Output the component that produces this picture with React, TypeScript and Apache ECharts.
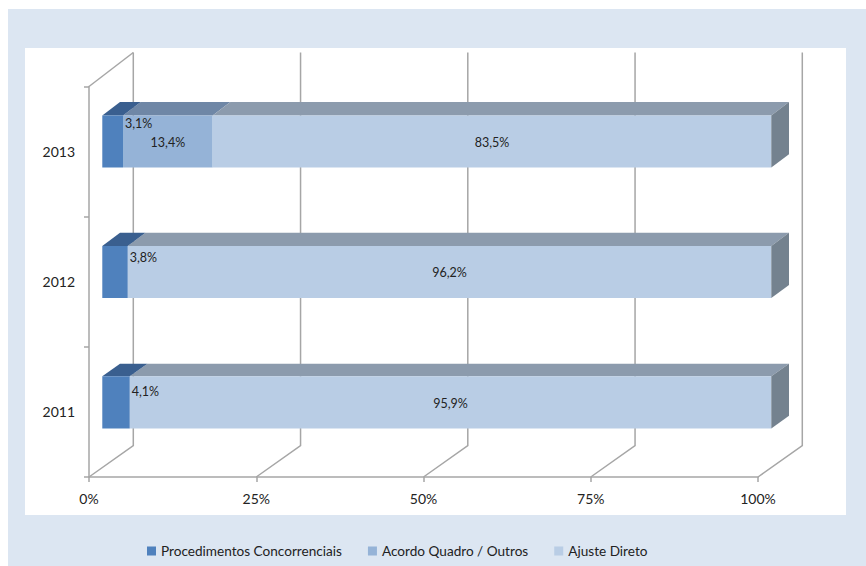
import React, { useEffect, useRef } from "react";
import * as echarts from "echarts";

const years = ["2011", "2012", "2013"];
const seriesNames = ["Procedimentos Concorrenciais", "Acordo Quadro / Outros", "Ajuste Direto"];
const procedimentos = [4.1, 3.8, 3.1];
const acordo = [0, 0, 13.4];
const ajuste = [95.9, 96.2, 83.5];
const xTicks = [0, 25, 50, 75, 100];

const seriesValues = [procedimentos, acordo, ajuste];
const faceColors = [
  { front: "#4f81bd", top: "#3a5f8f", side: "#3a5f8f" },
  { front: "#95b3d7", top: "#6f87a6", side: "#6f87a6" },
  { front: "#b9cde5", top: "#8c9bad", side: "#74828f" },
];
const smallLabelDy = [15, 12, 8];

const FONT = "Lato, 'Open Sans', sans-serif";
const TEXT = "#222";
const LINE = "#a6a6a6";
const DX = 44.3;
const depthY = (y: number, top: number, bottom: number) =>
  -31.3 - (2.7 * (bottom - y)) / (bottom - top);
const fmt = (v: number) => v.toFixed(1).replace(".", ",") + "%";

export default function App() {
  const ref = useRef<HTMLDivElement>(null);
  useEffect(() => {
    const chart = echarts.init(ref.current!, null, { renderer: "svg" });

    const wallSeries: any = {
      type: "custom",
      name: "walls",
      z: 1,
      silent: true,
      data: xTicks.map((v) => [v, 0]),
      encode: { x: 0, y: 1 },
      renderItem: (params: any, api: any) => {
        const cs = params.coordSys;
        const top = cs.y;
        const bottom = cs.y + cs.height;
        const x = api.coord([api.value(0), 0])[0];
        const children: any[] = [
          {
            type: "polyline",
            shape: {
              points: [
                [x, bottom],
                [x + DX, bottom + depthY(bottom, top, bottom)],
                [x + DX, top + depthY(top, top, bottom)],
              ],
            },
            style: { stroke: LINE, lineWidth: 1.5, fill: null },
          },
        ];
        if (params.dataIndex === 0) {
          children.push({
            type: "line",
            shape: { x1: x, y1: top, x2: x + DX, y2: top + depthY(top, top, bottom) },
            style: { stroke: LINE, lineWidth: 1.5 },
          });
        }
        return { type: "group", children };
      },
    };

    const barSeries = seriesValues.map((vals, s) => ({
      type: "custom",
      name: seriesNames[s],
      z: s === 0 ? 4 : 3,
      itemStyle: { color: faceColors[s].front },
      data: vals.map((v, i) => [v, i]),
      encode: { x: 0, y: 1 },
      renderItem: (params: any, api: any) => {
        const i = params.dataIndex;
        const v = api.value(0);
        const cat = api.value(1);
        if (!v) return null;
        let start = 0;
        for (let k = 0; k < s; k++) start += seriesValues[k][i];
        const end = start + v;
        const cs = params.coordSys;
        const top = cs.y;
        const bottom = cs.y + cs.height;
        const band = cs.height / years.length;
        const p0 = api.coord([start, cat]);
        const p1 = api.coord([end, cat]);
        const h = band * 0.4;
        const dy = depthY(p0[1], top, bottom);
        const fx0 = p0[0] + 0.3 * DX;
        const fx1 = p1[0] + 0.3 * DX;
        const cy = p0[1] + 0.3 * dy;
        const yT = cy - h / 2;
        const yB = cy + h / 2;
        const ddx = 0.4 * DX;
        const ddy = 0.4 * dy;
        const c = faceColors[s];
        const children: any[] = [
          {
            type: "polygon",
            shape: { points: [[fx0, yT], [fx0 + ddx, yT + ddy], [fx1 + ddx, yT + ddy], [fx1, yT]] },
            style: { fill: c.top },
          },
          {
            type: "rect",
            shape: { x: fx0, y: yT, width: fx1 - fx0, height: h },
            style: { fill: c.front },
          },
        ];
        if (end >= 99.95) {
          children.push({
            type: "polygon",
            shape: { points: [[fx1, yT], [fx1 + ddx, yT + ddy], [fx1 + ddx, yB + ddy], [fx1, yB]] },
            style: { fill: c.side },
          });
        }
        if (s === 0) {
          children.push({
            type: "text",
            x: fx1 + 2,
            y: yT + smallLabelDy[i],
            z2: 50,
            style: { text: fmt(v), fill: TEXT, font: `12.5px ${FONT}`, align: "left", verticalAlign: "middle" },
          });
        } else {
          children.push({
            type: "text",
            x: (fx0 + fx1) / 2,
            y: cy + 1,
            z2: 50,
            style: { text: fmt(v), fill: TEXT, font: `12.5px ${FONT}`, align: "center", verticalAlign: "middle" },
          });
        }
        return { type: "group", children };
      },
    }));

    chart.setOption({
      animation: false,
      textStyle: { fontFamily: FONT },
      graphic: [
        { type: "rect", z: -100, shape: { x: 8, y: 9, width: 858, height: 557 }, style: { fill: "#dce6f2" } },
        { type: "rect", z: -99, shape: { x: 25, y: 48, width: 821, height: 467 }, style: { fill: "#ffffff" } },
      ],
      legend: {
        data: seriesNames.map((n, s) => ({ name: n, itemStyle: { color: faceColors[s].front } })),
        left: 142,
        top: 539,
        icon: "rect",
        itemWidth: 9,
        itemHeight: 9,
        itemGap: 26,
        textStyle: { fontFamily: FONT, fontSize: 13.6, color: TEXT },
      },
      grid: { left: 89, right: 108, top: 86.5, bottom: 89 },
      xAxis: {
        type: "value",
        min: 0,
        max: 100,
        interval: 25,
        axisLabel: { formatter: "{value}%", margin: 14, fontSize: 14, color: TEXT, fontFamily: FONT },
        axisLine: { show: true, lineStyle: { color: LINE, width: 1.5 } },
        axisTick: { show: true, length: 5, lineStyle: { color: LINE, width: 1.5 } },
        splitLine: { show: false },
      },
      yAxis: {
        type: "category",
        data: years,
        axisLabel: { margin: 14, fontSize: 14, color: TEXT, fontFamily: FONT, padding: [4, 0, 0, 0] },
        axisLine: { show: true, lineStyle: { color: LINE, width: 1.5 } },
        axisTick: { show: true, length: 5, lineStyle: { color: LINE, width: 1.5 } },
        splitLine: { show: false },
      },
      series: [wallSeries, ...barSeries],
    });
    return () => chart.dispose();
  }, []);
  return (
    <div
      ref={ref}
      style={{ position: "absolute", left: 0, top: 0, width: 866, height: 566 }}
    />
  );
}
